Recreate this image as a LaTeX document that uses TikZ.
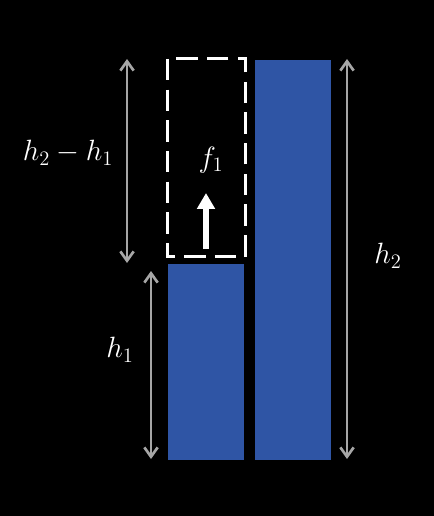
\RequirePackage{fix-cm}
\documentclass[tikz,border=0pt]{standalone}
\usepackage{amsmath,amssymb}
\usepackage{tikz}
\usetikzlibrary{arrows.meta,positioning,calc}
\definecolor{barblue}{RGB}{47,85,165}
\definecolor{dimgray}{RGB}{166,166,166}
\tikzset{bar/.style={fill=barblue},
  dimarr/.style={{Straight Barb[length=7pt,width=10pt]}-{Straight Barb[length=7pt,width=10pt]},dimgray,line width=2pt},
  lbl/.style={text=white,font=\fontsize{22}{26}\selectfont},
  pusharr/.style={-{Triangle[length=12pt,width=13pt]},white,line width=4.5pt}}

\begin{document}
\begin{tikzpicture}[x=0.75pt,y=-0.75pt]
\fill[black] (0,0) rectangle (434,516);
% bars
\coordinate (lb1) at (168,264); \coordinate (lb2) at (244,460);
\coordinate (rb1) at (255,60);  \coordinate (rb2) at (331,460);
\fill[bar] (lb1) rectangle (lb2);
\fill[bar] (rb1) rectangle (rb2);
% dashed box above the short bar
\coordinate (db1) at (167,59); \coordinate (db2) at (245.5,256.5);
\draw[white,line width=2.25pt,dash pattern=on 16pt off 7pt] (db1) rectangle (db2);
% push arrow
\coordinate (pa) at (206,249); \coordinate (pb) at (206,193);
\draw[pusharr] (pa)--(pb);
\node[lbl] (f1) at (211,160){$f_1$};
% dimension arrows
\coordinate (d1a) at (127,59);  \coordinate (d1b) at (127,263);
\coordinate (d2a) at (151,271); \coordinate (d2b) at (151,459);
\coordinate (d3a) at (347,59);  \coordinate (d3b) at (347,459);
\draw[dimarr] (d1a)--(d1b);
\draw[dimarr] (d2a)--(d2b);
\draw[dimarr] (d3a)--(d3b);
\node[lbl] (hdiff) at (68,153){$h_2-h_1$};
\node[lbl] (h1) at (120,350){$h_1$};
\node[lbl] (h2) at (388,256){$h_2$};
\end{tikzpicture}
\end{document}
